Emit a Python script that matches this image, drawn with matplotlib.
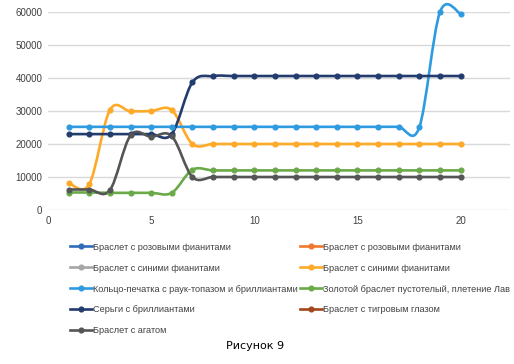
import numpy as np
import matplotlib
matplotlib.use("Agg")
import matplotlib.pyplot as plt
from matplotlib.path import Path
from matplotlib.patches import PathPatch
from matplotlib.lines import Line2D

# x positions (1..20)
x = list(range(1, 21))

names = [
    "Браслет с розовыми фианитами",
    "Браслет с розовыми фианитами",
    "Браслет с синими фианитами",
    "Браслет с синими фианитами",
    "Кольцо-печатка с раук-топазом и бриллиантами",
    "Золотой браслет пустотелый, плетение Лав",
    "Серьги с бриллиантами",
    "Браслет с тигровым глазом",
    "Браслет с агатом",
]
colors = ["#2F6DB8", "#F0782E", "#A6A6A6", "#FFA928", "#2E9BE0",
          "#6AAA48", "#233C6E", "#A2461C", "#555555"]

# values (series that are not visible are left empty)
pink1 = []
pink2 = []
blue1 = []
blue2 = [8200, 7800, 30300, 29900, 30000, 30300, 20000, 20000, 20000, 20000,
         20000, 20000, 20000, 20000, 20000, 20000, 20000, 20000, 20000, 20000]
ring = [25200, 25200, 25200, 25200, 25200, 25200, 25200, 25200, 25200, 25200,
        25200, 25200, 25200, 25200, 25200, 25200, 25200, 25000, 59900, 59500]
gold = [5300, 5300, 5200, 5200, 5200, 5200, 12200, 12000, 12000, 12000,
        12000, 12000, 12000, 12000, 12000, 12000, 12000, 12000, 12000, 12000]
earrings = [23000, 23000, 23000, 23000, 23000, 23000, 38700, 40600, 40600, 40600,
            40600, 40600, 40600, 40600, 40600, 40600, 40600, 40600, 40600, 40600]
tiger = []
agate = [6200, 6200, 6000, 22600, 22200, 22400, 10000, 10000, 10000, 10000,
         10000, 10000, 10000, 10000, 10000, 10000, 10000, 10000, 10000, 10000]

series = [pink1, pink2, blue1, blue2, ring, gold, earrings, tiger, agate]


def smooth_path(xs, ys):
    # Excel-like smoothed line: cubic bezier segments through the points
    pts = np.column_stack([xs, ys]).astype(float)
    n = len(pts)
    verts = [pts[0]]
    codes = [Path.MOVETO]
    for i in range(n - 1):
        p0 = pts[i - 1] if i > 0 else pts[i]
        p1 = pts[i]
        p2 = pts[i + 1]
        p3 = pts[i + 2] if i + 2 < n else pts[i + 1]
        c1 = p1 + (p2 - p0) / 6.0
        c2 = p2 - (p3 - p1) / 6.0
        verts += [c1, c2, p2]
        codes += [Path.CURVE4] * 3
    return Path(verts, codes)


fig = plt.figure(figsize=(5.14, 3.64), dpi=100)
ax = fig.add_axes([48 / 514, 1 - 210 / 364, 462 / 514, 198 / 364])

handles = []
for name, col, ys in zip(names, colors, series):
    if len(ys) > 0:
        ax.add_patch(PathPatch(smooth_path(x, ys), facecolor="none",
                               edgecolor=col, lw=1.9, zorder=3, clip_on=False))
        ax.plot(x, ys, linestyle="none", marker="o", ms=3.4, color=col,
                zorder=4, clip_on=False)
    handles.append(Line2D([], [], color=col, lw=1.9, marker="o", ms=3.4))

ax.set_xlim(0, 22.4)
ax.set_ylim(0, 60000)
ax.set_xticks([0, 5, 10, 15, 20])
ax.set_yticks(range(0, 60001, 10000))
ax.grid(axis="y", color="#D9D9D9", lw=1)
ax.set_axisbelow(True)
for s in ax.spines.values():
    s.set_visible(False)
ax.tick_params(length=0, labelsize=7, colors="#404040", pad=4)
for lab in ax.get_xticklabels() + ax.get_yticklabels():
    lab.set_family("Liberation Sans")

# legend in row order like the reference
order = [0, 2, 4, 6, 8, 1, 3, 5, 7]
fig.legend([handles[i] for i in order], [names[i] for i in order],
           loc="upper left", bbox_to_anchor=(0.13, 1 - 239 / 364), ncol=2,
           frameon=False, prop={"family": "Liberation Sans", "size": 6.6},
           labelcolor="#404040", handlelength=2.4, handletextpad=0.1,
           columnspacing=0.25, labelspacing=1.3, borderaxespad=0)

fig.text(0.497, 1 - 346 / 364, "Рисунок 9", ha="center", va="center",
         fontsize=8, family="DejaVu Sans")

fig.savefig("out.png", dpi=100)
